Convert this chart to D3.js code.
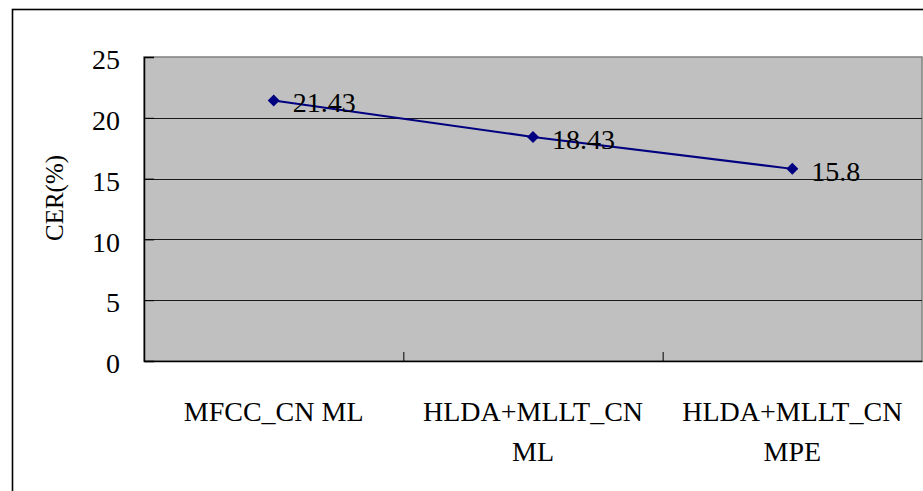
<!DOCTYPE html>
<html><head><meta charset="utf-8">
<script src="https://cdn.jsdelivr.net/npm/d3@7"></script>
<style>
body{margin:0;background:#fff;}
svg{display:block;font-family:"Liberation Serif","Times New Roman",serif;}
</style></head>
<body>
<script>
const categories = [["MFCC_CN ML"], ["HLDA+MLLT_CN", "ML"], ["HLDA+MLLT_CN", "MPE"]];
const values = [21.43, 18.43, 15.8];
const valueLabels = ["21.43", "18.43", "15.8"];
const yTicks = [0, 5, 10, 15, 20, 25];
const yTitle = "CER(%)";

const W = 923, H = 491;
const plot = {left: 144, top: 57, right: 922, bottom: 361};
const svg = d3.select("body").append("svg").attr("width", W).attr("height", H);

// outer frame
svg.append("rect").attr("x", 12.5).attr("y", 9.5).attr("width", 940).attr("height", 520)
  .attr("fill", "#fff").attr("stroke", "#000").attr("stroke-width", 1.6);

const x = d3.scaleBand().domain(d3.range(categories.length)).range([plot.left, plot.right]);
const y = d3.scaleLinear().domain([0, 25]).range([plot.bottom, plot.top]);

// plot background
svg.append("rect").attr("x", plot.left).attr("y", plot.top)
  .attr("width", plot.right - plot.left).attr("height", plot.bottom - plot.top)
  .attr("fill", "#c0c0c0").attr("stroke", "#808080").attr("stroke-width", 1.5);

// gridlines
svg.append("g").selectAll("line").data(yTicks.filter(d => d > 0 && d < 25)).join("line")
  .attr("x1", plot.left).attr("x2", plot.right)
  .attr("y1", d => Math.round(y(d)) + 0.5).attr("y2", d => Math.round(y(d)) + 0.5)
  .attr("stroke", "#1a1a1a").attr("stroke-width", 1);

// y axis
const yAxis = d3.axisLeft(y).tickValues(yTicks).tickSize(-10).tickPadding(24);
const gy = svg.append("g").attr("transform", `translate(${plot.left},0)`).call(yAxis);
gy.select(".domain").attr("stroke", "#000").attr("stroke-width", 1.5);
gy.selectAll(".tick line").attr("stroke", "#000");
gy.selectAll(".tick text").attr("font-size", 28).attr("fill", "#000")
  .attr("font-family", "Liberation Serif").attr("dy", "0.42em");

// x axis
const xAxis = d3.axisBottom(x).tickSize(0).tickFormat("");
const gx = svg.append("g").attr("transform", `translate(0,${plot.bottom})`).call(xAxis);
gx.select(".domain").attr("stroke", "#000").attr("stroke-width", 1.5);
gx.selectAll(".tick").remove();
svg.append("g").selectAll("line").data(d3.range(1, categories.length)).join("line")
  .attr("x1", d => x(d) + 0.5).attr("x2", d => x(d) + 0.5)
  .attr("y1", plot.bottom - 9).attr("y2", plot.bottom)
  .attr("stroke", "#000").attr("stroke-width", 1);

// category labels
const cl = svg.append("g").selectAll("text").data(categories).join("text")
  .attr("x", (d, i) => x(i) + x.bandwidth() / 2)
  .attr("y", 421).attr("text-anchor", "middle").attr("font-size", 28).attr("fill", "#000");
cl.selectAll("tspan").data(d => d).join("tspan")
  .attr("x", function() { return d3.select(this.parentNode).attr("x"); })
  .attr("dy", (d, i) => i === 0 ? 0 : 40)
  .attr("textLength", function(d) { return null; })
  .text(d => d);

// y title
svg.append("text").attr("transform", "translate(63,198) rotate(-90)")
  .attr("text-anchor", "middle").attr("font-size", 25).attr("fill", "#000").text(yTitle);

// line
const cx = i => x(i) + x.bandwidth() / 2;
svg.append("path").datum(values)
  .attr("d", d3.line().x((d, i) => cx(i)).y(d => y(d)))
  .attr("fill", "none").attr("stroke", "#000080").attr("stroke-width", 2);

svg.append("g").selectAll("path").data(values).join("path")
  .attr("transform", (d, i) => `translate(${cx(i)},${y(d)})`)
  .attr("d", d3.symbol().type(d3.symbolDiamond2).size(60))
  .attr("d", "M0,-6L6,0L0,6L-6,0Z")
  .attr("fill", "#000080");

// value labels
svg.append("g").selectAll("text").data(values).join("text")
  .attr("x", (d, i) => cx(i) + 19).attr("y", d => y(d) + 12)
  .attr("font-size", 28).attr("fill", "#000")
  .text((d, i) => valueLabels[i]);
</script>
</body></html>
